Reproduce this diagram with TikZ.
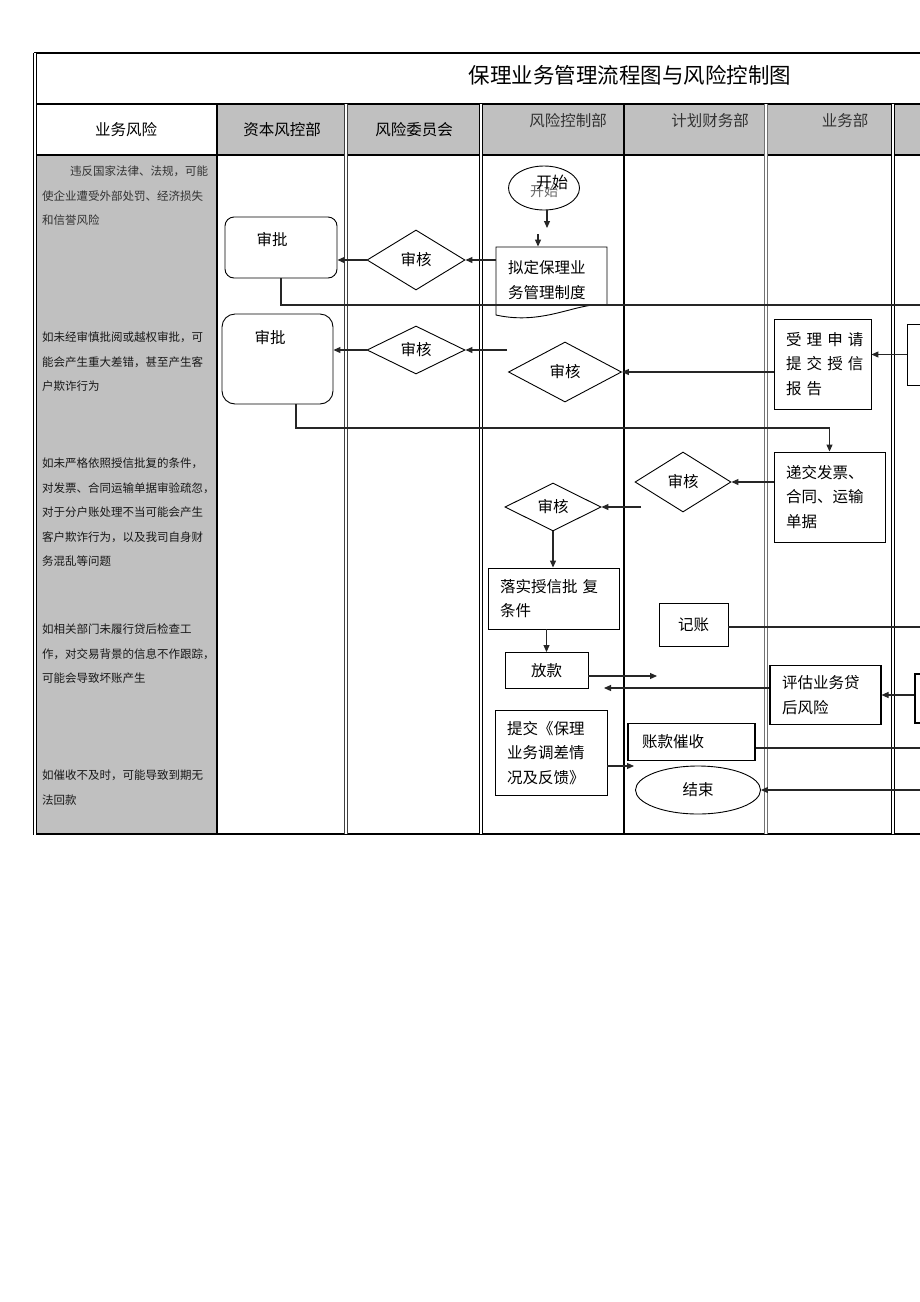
\documentclass[tikz,border=0pt]{standalone}
\usepackage{fontspec}
\setmainfont{Noto Sans CJK SC}
\usetikzlibrary{shapes.geometric,arrows.meta}
\definecolor{hdr}{RGB}{192,192,192}
\begin{document}
\begin{tikzpicture}[x=1pt,y=-1pt,
  bx/.style={draw, line width=0.9pt, inner xsep=12pt, inner ysep=0pt, align=left, font=\fontsize{15.5}{24.5}\selectfont},
  bc/.style={draw, line width=0.9pt, inner sep=0pt, align=center, font=\fontsize{15.5}{24.5}\selectfont},
  dm/.style={diamond, draw, line width=0.9pt, inner sep=0pt, font=\fontsize{15.5}{18}\selectfont},
  el/.style={ellipse, draw, line width=0.9pt, inner sep=0pt, font=\fontsize{15.5}{18}\selectfont},
  rbx/.style={draw, line width=0.9pt, inner sep=0pt},
  risk/.style={anchor=north west, inner sep=0pt, align=left, text=black!90, font=\fontsize{11.5}{24.5}\selectfont},
  hf/.style={inner sep=0pt, font=\fontsize{15.5}{18}\selectfont},
  con/.style={line width=1.1pt, draw=black!85},
  arr/.style={con, -{Triangle[length=7pt,width=6pt]}},
  dbl/.style={double, double distance=1.8pt, line width=0.7pt}
]
\useasboundingbox (0,0) rectangle (920,1302);
\fill[white] (0,0) rectangle (920,1302);
\clip (0,0) rectangle (920,1302);

% fills
\fill[hdr] (217,104) rectangle (920,155);
\fill[hdr] (34,155) rectangle (217,834);

% frame
\draw[line width=2.2pt] (34,53) -- (920,53);
\draw[line width=1.6pt] (34,104) -- (920,104);
\draw[line width=2.2pt] (34,155) -- (920,155);
\draw[line width=2.2pt] (34,834) -- (920,834);
\draw[dbl] (35,53) -- (35,835);
\draw[line width=1.6pt] (217,104) -- (217,834);
\draw[dbl, draw=black!75] (346,104) -- (346,834);
\draw[dbl] (481,104) -- (481,834);
\draw[line width=1.8pt] (624,104) -- (624,834);
\draw[dbl, draw=black!55] (766,104) -- (766,834);
\draw[dbl] (893,104) -- (893,834);

% title and headers
\node[inner sep=0pt, font=\fontsize{21.5}{26}\selectfont] (title) at (630,75) {保理业务管理流程图与风险控制图};
\node[hf] (h1) at (126,130) {业务风险};
\node[hf] (h2) at (282,130) {资本风控部};
\node[hf] (h3) at (414,130) {风险委员会};
\node[hf, text=black!80] (h4) at (568,121) {风险控制部};
\node[hf, text=black!80] (h5) at (710,121) {计划财务部};
\node[hf, text=black!80] (h6) at (845,121) {业务部};

% risk texts
\node[risk, text=black!80] (r1) at (42,166) {\hspace*{28pt}违反国家法律、法规，可能\\使企业遭受外部处罚、经济损失\\和信誉风险};
\node[risk] (r2) at (42,332) {如未经审慎批阅或越权审批，可\\能会产生重大差错，甚至产生客\\户欺诈行为};
\node[risk] (r3) at (42,458) {如未严格依照授信批复的条件，\\对发票、合同运输单据审验疏忽，\\对于分户账处理不当可能会产生\\客户欺诈行为，以及我司自身财\\务混乱等问题};
\node[risk] (r4) at (42,624) {如相关部门未履行贷后检查工\\作，对交易背景的信息不作跟踪，\\可能会导致坏账产生};
\node[risk] (r5) at (42,770) {如催收不及时，可能导致到期无\\法回款};

% start
\node[el, minimum width=71pt, minimum height=44pt] (start) at (544,188) {};
\node[inner sep=0pt, font=\fontsize{14}{16}\selectfont, text=black!60] (st2) at (544,191) {开始};
\node[inner sep=0pt, font=\fontsize{16}{18}\selectfont] (st1) at (552,182) {开始};

% document box
\node[bx, draw=none, text width=87pt, minimum height=66pt] (ni) at (551.5,280) {拟定保理业\\务管理制度};
\draw[line width=0.9pt] (496,247) -- (607,247) -- (607,305) .. controls (578,301) and (545,326) .. (496,315) -- cycle;

% approval boxes
\node[rbx, rounded corners=9pt, minimum width=112pt, minimum height=61pt] (ap1) at (281,247.5) {};
\node[hf] (ap1t) at (272,240) {审批};
\node[rbx, rounded corners=13pt, minimum width=111pt, minimum height=90pt] (ap2) at (277.5,359) {};
\node[hf] (ap2t) at (270,338) {审批};

% diamonds
\node[dm, minimum width=98pt, minimum height=60pt] (d1) at (416,260) {审核};
\node[dm, minimum width=98pt, minimum height=48pt] (d2) at (416,350) {审核};
\node[dm, minimum width=113pt, minimum height=60pt] (d3) at (565,372) {审核};
\node[dm, minimum width=96pt, minimum height=60pt] (d4) at (683,482) {审核};
\node[dm, minimum width=96pt, minimum height=48pt] (d5) at (553,507) {审核};

% boxes
\node[bx, text width=73pt, minimum height=90pt] (sl) at (822.5,364) {受~理~申~请\\提~交~授~信\\报~告};
\node[bx, text width=87pt, minimum height=90pt] (dj) at (829.5,497) {递交发票、\\合同、运输\\单据};
\node[bx, text width=107pt, minimum height=61pt] (lu) at (553.5,598.5) {落实授信批~复\\条件};
\node[bc, minimum width=83pt, minimum height=36pt] (fk) at (546.5,670.5) {放款};
\node[bc, minimum width=69pt, minimum height=43pt] (jz) at (693.5,624.5) {记账};
\node[bx, line width=1.1pt, text width=87pt, minimum height=59pt] (pg) at (825.5,695) {评估业务贷\\后风险};
\node[bx, text width=88pt, minimum height=85pt] (tj) at (551,753) {提交《保理\\业务调差情\\况及反馈》};
\node[bx, line width=1.1pt, inner xsep=14pt, text width=99pt, minimum height=37pt] (zk) at (691.5,742) {账款催收};
\node[el, minimum width=125pt, minimum height=48pt] (end) at (698,790) {结束};
\node[rbx, minimum width=28pt, minimum height=61pt] (rb1) at (921,354.5) {};
\node[rbx, line width=1.1pt, minimum width=28pt, minimum height=49pt] (rb2) at (929,698.5) {};

% coordinates
\coordinate (c1) at (547,228);
\coordinate (c2) at (538,234);
\coordinate (e1) at (920,305);
\coordinate (c3) at (507,350);
\coordinate (k1) at (296,428);
\coordinate (c4) at (641,507);
\coordinate (c5) at (657,676);
\coordinate (c6) at (604,688);
\coordinate (c7) at (634,766);
\coordinate (e2) at (920,627);
\coordinate (e3) at (920,748);
\coordinate (e4) at (920,790);

% connectors
\draw[arr] (c1 |- start.south) -- (c1);
\draw[arr] (c2) -- (c2 |- ni.north);
\draw[arr] (ni.west |- d1) -- (d1.east);
\draw[arr] (d1.west) -- (d1.west -| ap1.east);
\draw[con] (ap1.south) |- (e1);
\draw[arr] (c3) -- (d2.east);
\draw[arr] (d2.west) -- (d2.west -| ap2.east);
\draw[arr] (ap2.south -| k1) -- (k1) -| (dj.north);
\draw[arr] (sl.west |- d3) -- (d3.east);
\draw[arr] (rb1.west) -- (rb1.west -| sl.east);
\draw[arr] (dj.west |- d4) -- (d4.east);
\draw[arr] (c4) -- (d5.east);
\draw[arr] (d5.south) -- (d5.south |- lu.north);
\draw[arr] (fk.north |- lu.south) -- (fk.north);
\draw[arr] (fk.east |- c5) -- (c5);
\draw[arr] (pg.west |- c6) -- (c6);
\draw[arr] (rb2.west |- pg.east) -- (pg.east);
\draw[con] (jz.east |- e2) -- (e2);
\draw[arr] (tj.east |- c7) -- (c7);
\draw[con] (zk.east |- e3) -- (e3);
\draw[arr] (e4) -- (end.east);
\end{tikzpicture}
\end{document}
